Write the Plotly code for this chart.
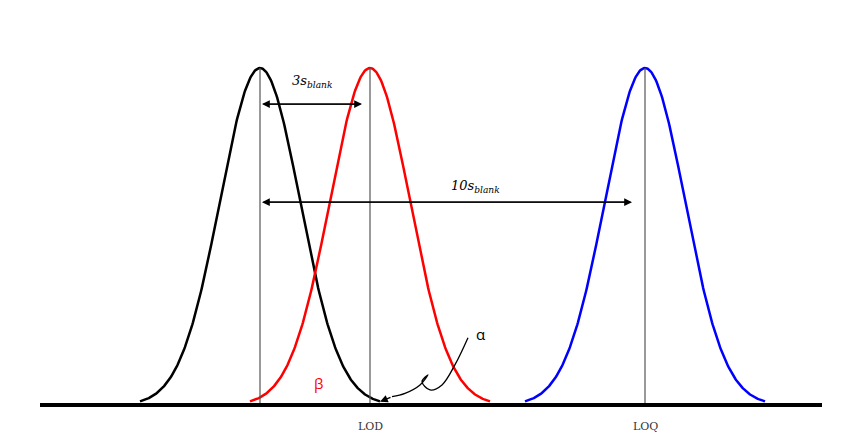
import numpy as np
import plotly.graph_objects as go

# peak centres (px-like axis units), common width, colours
centers = [260, 370, 645]
colors = ["black", "red", "blue"]
sigma = 40
names = ["blank", "LOD", "LOQ"]
tick_labels = ["LOD", "LOQ"]

fig = go.Figure()

for c, col in zip(centers, colors):
    x = np.linspace(c - 3 * sigma, c + 3 * sigma, 300)
    y = np.exp(-0.5 * ((x - c) / sigma) ** 2)
    fig.add_trace(go.Scatter(x=x, y=y, mode="lines", line=dict(color=col, width=2.5),
                             hoverinfo="skip"))
    fig.add_shape(type="line", x0=c, x1=c, y0=0, y1=1, line=dict(color="#555", width=1.2))

# baseline
fig.add_shape(type="line", x0=40, x1=822, y0=0, y1=0, line=dict(color="black", width=4))

# squiggle from alpha towards LOD
sq_x = [468, 455, 442, 430, 422, 428, 420, 405, 392]
sq_y = [0.20, 0.12, 0.06, 0.045, 0.07, 0.09, 0.06, 0.035, 0.025]
fig.add_trace(go.Scatter(x=sq_x, y=sq_y, mode="lines", line=dict(color="black", width=1.3, shape="spline"),
                         hoverinfo="skip"))

font = dict(family="Comic Sans MS, DejaVu Serif, serif", size=13, color="black")
arrows = [(262, 362, 0.893), (262, 632, 0.602)]
for x0, x1, y in arrows:
    for a, b in [(x0, x1), (x1, x0)]:
        fig.add_annotation(x=a, y=y, ax=b, ay=y, xref="x", yref="y", axref="x", ayref="y",
                           text="", showarrow=True, arrowhead=2, arrowsize=1.2, arrowwidth=1.3,
                           arrowcolor="black")
fig.add_annotation(x=380, y=0.01, ax=392, ay=0.025, xref="x", yref="y", axref="x", ayref="y",
                   text="", showarrow=True, arrowhead=2, arrowsize=1.2, arrowwidth=1.3,
                   arrowcolor="black")

fig.add_annotation(x=312, y=0.96, text="<i>3s<sub>blank</sub></i>", showarrow=False, font=font)
fig.add_annotation(x=475, y=0.65, text="<i>10s<sub>blank</sub></i>", showarrow=False, font=font)
fig.add_annotation(x=318, y=0.065, text="β", showarrow=False, font=dict(size=15, color="red"))
fig.add_annotation(x=480, y=0.21, text="α", showarrow=False, font=dict(size=15, color="black"))
for c, t in zip(centers[1:], tick_labels):
    fig.add_annotation(x=c, y=-0.062, text=t, showarrow=False,
                       font=dict(family="DejaVu Serif, serif", size=11, color="#333"))

fig.update_xaxes(range=[8, 874], visible=False)
fig.update_yaxes(range=[-0.145, 1.178], visible=False)
fig.update_layout(width=866, height=446, margin=dict(l=0, r=0, t=0, b=0),
                  plot_bgcolor="white", paper_bgcolor="white", showlegend=False)
fig.write_html("out.html")
